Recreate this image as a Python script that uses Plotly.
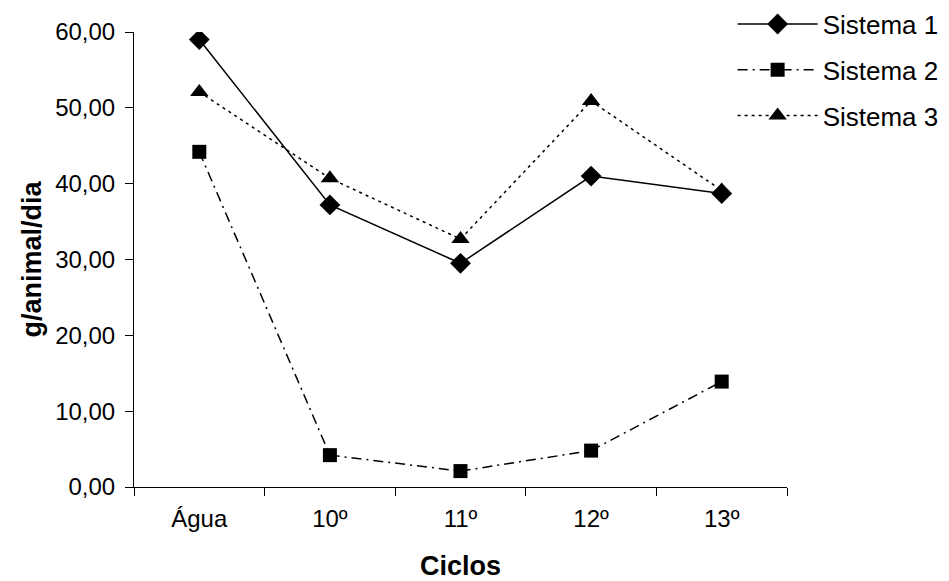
import plotly.graph_objects as go

categorias = ["Água", "10º", "11º", "12º", "13º"]
sistema1 = [59.0, 37.2, 29.5, 41.0, 38.7]
sistema2 = [44.2, 4.2, 2.1, 4.8, 13.9]
sistema3 = [52.1, 40.7, 32.7, 50.9, 39.1]
y_ticks = [0, 10, 20, 30, 40, 50, 60]

fig = go.Figure()
fig.add_trace(go.Scatter(x=categorias, y=sistema1, name="Sistema 1", mode="lines+markers",
                         legendgroup="s1",
                         line=dict(color="black", width=1.5),
                         marker=dict(symbol="diamond", size=16, color="black")))
fig.add_trace(go.Scatter(x=categorias, y=sistema2, name="Sistema 2", mode="lines+markers",
                         legendgroup="s2",
                         line=dict(color="black", width=1.5, dash="10px,5px,2px,5px"),
                         marker=dict(symbol="square", size=14, color="black")))
fig.add_trace(go.Scatter(x=categorias, y=sistema3, name="Sistema 3", mode="lines+markers",
                         legendgroup="s3",
                         line=dict(color="black", width=1.5, dash="3px,4px"),
                         marker=dict(symbol="triangle-up", size=16, color="black")))

fig.update_layout(
    width=949, height=581,
    margin=dict(l=134, r=162, t=32, b=94, autoexpand=False),
    plot_bgcolor="white", paper_bgcolor="white",
    separators=",.",
    font=dict(family="Liberation Sans, Arial", size=24, color="black"),
    showlegend=True,
    legend=dict(xref="container", yref="container", x=0.772, y=0.999,
                xanchor="left", yanchor="top",
                font=dict(size=26), bgcolor="rgba(0,0,0,0)",
                tracegroupgap=9, itemwidth=80),
)
fig.update_xaxes(
    type="category", range=[-0.5, 4.5],
    showline=True, linecolor="black", linewidth=1,
    ticks="outside", ticklen=8, tickcolor="black", tickson="boundaries",
    ticklabelstandoff=10,
    showgrid=False, zeroline=False,
    title=dict(text="<b>Ciclos</b>", font=dict(size=27), standoff=28),
)
fig.update_yaxes(
    range=[0, 60], tickvals=y_ticks, tickformat=".2f",
    showline=True, linecolor="black", linewidth=1,
    ticks="outside", ticklen=8, tickcolor="black",
    ticklabelstandoff=5,
    showgrid=False, zeroline=False,
    title=dict(text="<b>g/animal/dia</b>", font=dict(size=27), standoff=5),
)

fig.write_html("out.html")
